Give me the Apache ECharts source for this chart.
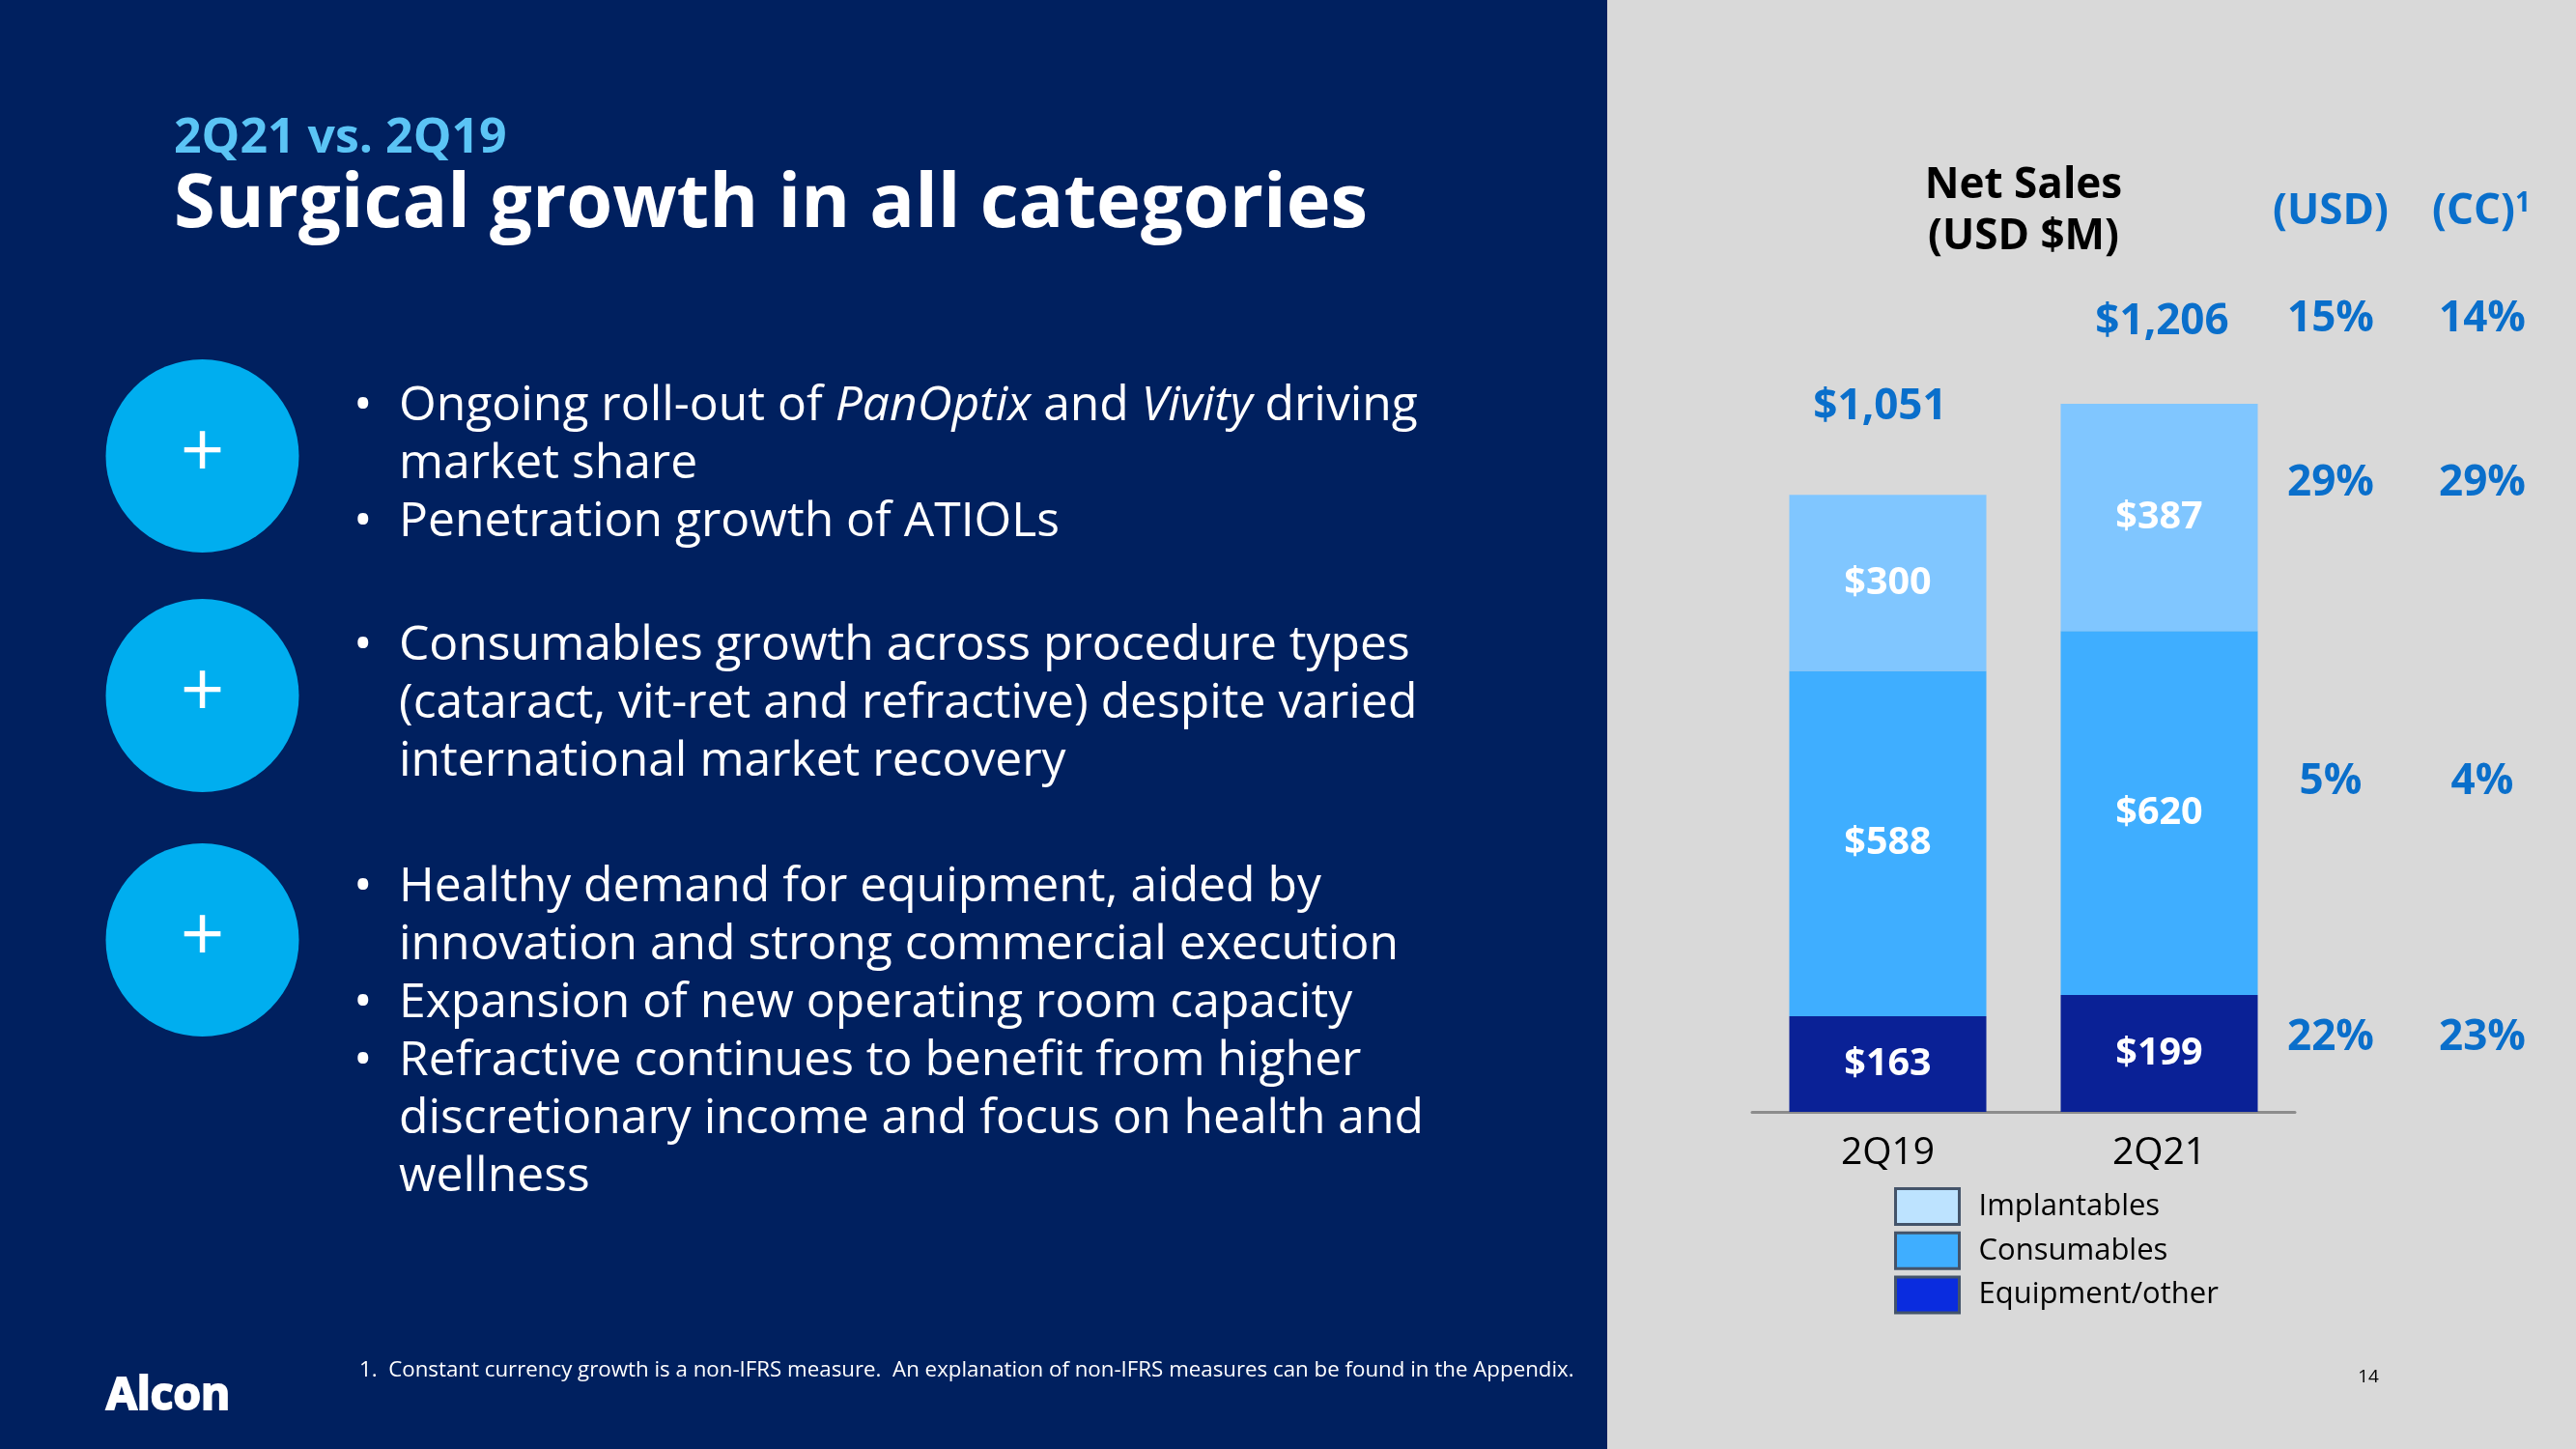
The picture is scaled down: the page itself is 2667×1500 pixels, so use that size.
<!DOCTYPE html>
<html><head><meta charset="utf-8">
<style>html,body{margin:0;padding:0;background:#D9D9D9}#c{width:2667px;height:1500px}</style>
<script src="https://cdn.jsdelivr.net/npm/echarts@6/dist/echarts.min.js"></script>
</head><body><div id="c"></div>
<script>
const categories = ['2Q19', '2Q21'];
const equipment = [163, 199];
const consumables = [588, 620];
const implantables = [300, 387];
const totals = [1051, 1206];
const growthRows = [['15%','14%'],['29%','29%'],['5%','4%'],['22%','23%']];
const bulletLines = [
  [1,'Ongoing roll-out of {i|PanOptix} and {i|Vivity} driving'],[0,'market share'],[1,'Penetration growth of ATIOLs'],
  [1,'Consumables growth across procedure types'],[0,'(cataract, vit-ret and refractive) despite varied'],[0,'international market recovery'],
  [1,'Healthy demand for equipment, aided by'],[0,'innovation and strong commercial execution'],[1,'Expansion of new operating room capacity'],
  [1,'Refractive continues to benefit from higher'],[0,'discretionary income and focus on health and'],[0,'wellness']
];
const F = '"Open Sans"';
const bulletY = [421,481,541,669,729,789,919,979,1039,1099,1159,1219];
const rowY = [330,500,809,1074];
const circleY = [472,720,973];
const g = [];
const T = (x,y,text,size,fill,weight,align,extra) => g.push({type:'text',z:5,style:Object.assign({x,y,text,fill,align:align||'left',verticalAlign:'middle',
  font:(weight||'normal')+' '+size+'px '+F},extra||{})});
g.push({type:'rect',z:0,shape:{x:0,y:0,width:1664,height:1500},style:{fill:'#00205F'}});
g.push({type:'rect',z:0,shape:{x:1664,y:0,width:1003,height:1500},style:{fill:'#D9D9D9'}});
circleY.forEach(y=>{
  g.push({type:'circle',z:1,shape:{cx:209.5,cy:y,r:100},style:{fill:'#00AEEF'}});
  T(209.5,y-1,'+',80,'#FFFFFF','normal','center');
});
T(180,144,'2Q21 vs. 2Q19',50,'#5BC4F5','bold');
T(180,213,'Surgical growth in all categories',77.6,'#FFFFFF','bold');
bulletLines.forEach((l,i)=>{
  if(l[0]) T(366,bulletY[i],'•',52,'#FFFFFF');
  T(413,bulletY[i],l[1],49.8,'#FFFFFF','normal','left',{rich:{i:{fontFamily:F,fontStyle:'italic',fontSize:49.8,fill:'#FFFFFF'}}});
});
T(372,1419,'1.  Constant currency growth is a non-IFRS measure.  An explanation of non-IFRS measures can be found in the Appendix.',22.3,'#FFFFFF');
T(110,1446,'Alcon',46,'#FFFFFF','bold','left',{stroke:'#FFFFFF',lineWidth:2});
T(2452,1426,'14',19,'#000000','normal','center');
T(2095,192,'Net Sales',44,'#000000','bold','center');
T(2095,245,'(USD $M)',44,'#000000','bold','center');
const blue='#0A6FCB';
T(2413,219,'(USD)',44,blue,'bold','center');
T(2569,219,'(CC){s|1}',44,blue,'bold','center',{rich:{s:{fontFamily:F,fontWeight:'bold',fontSize:28,fill:blue,verticalAlign:'top',padding:[0,0,14,0]}}});
growthRows.forEach((r,i)=>{
  T(2413,rowY[i],r[0],44,blue,'bold','center');
  T(2570,rowY[i],r[1],44,blue,'bold','center');
});
const lbl = {show:true,position:'inside',color:'#FFFFFF',fontFamily:F,fontWeight:'bold',fontSize:39.5,offset:[0,0],formatter:p=>'$'+p.value};
const bar = (name,data,color)=>({name,type:'bar',stack:'s',data,barWidth:204,itemStyle:{color},label:lbl,emphasis:{disabled:true},z:3});
const chart = echarts.init(document.getElementById('c'),null,{renderer:'canvas'});
chart.setOption({
  animation:false,
  graphic:g,
  grid:{left:1814,top:418,width:562,height:733},
  xAxis:{type:'category',data:categories,axisTick:{show:false},
    axisLine:{lineStyle:{color:'#8C8C8C',width:3}},
    axisLabel:{color:'#000000',fontFamily:F,fontSize:39,margin:23}},
  yAxis:{type:'value',min:0,max:1206,show:false,splitLine:{show:false}},
  legend:{orient:'vertical',left:1961,top:1229,padding:0,itemWidth:66,itemHeight:37,itemGap:5.8,icon:'rect',selectedMode:false,
    textStyle:{color:'#000000',fontFamily:F,fontSize:31,lineHeight:36,padding:[-6,0,0,15]},
    data:[
      {name:'Implantables',itemStyle:{color:'#BDE3FF',borderColor:'#44546A',borderWidth:3}},
      {name:'Consumables',itemStyle:{color:'#3FAEFF',borderColor:'#44546A',borderWidth:3}},
      {name:'Equipment/other',itemStyle:{color:'#0A2CDF',borderColor:'#44546A',borderWidth:3}}
    ]},
  series:[
    bar('Equipment/other',equipment,'#0A2196'),
    bar('Consumables',consumables,'#3FAEFF'),
    bar('Implantables',implantables,'#80C6FF'),
    {name:'Total',type:'scatter',symbolSize:1,itemStyle:{color:'transparent',opacity:1},z:4,silent:true,
     label:{show:true,position:'top',color:blue,fontFamily:F,fontWeight:'bold',fontSize:44,
       formatter:p=>'$'+p.value.toLocaleString('en-US')},
     data:totals.map((v,i)=>({value:v,label:{offset:i===0?[-8,-63]:[3,-57]}}))}
  ]
});
</script></body></html>
